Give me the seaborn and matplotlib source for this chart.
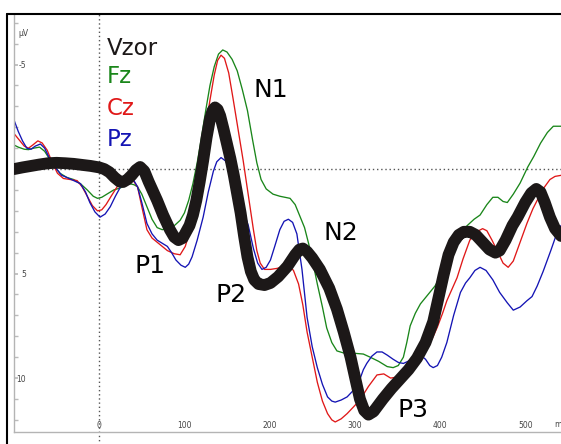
import matplotlib
matplotlib.use("Agg")
import matplotlib.pyplot as plt
from matplotlib.lines import Line2D
import seaborn as sns

sns.set_theme(style="white")
plt.rcParams["font.family"] = ["DejaVu Sans"]
plt.rcParams["axes.unicode_minus"] = False

# ERP waveforms (ms, µV), negative plotted upward
vzor_t = [-100, -90, -80, -70, -60, -50, -40, -30, -20, -10, 0, 6, 12, 18, 24, 28, 33, 38, 43,
          48, 53, 58, 63, 68, 75, 83, 88, 93, 98, 102, 106, 110, 114, 118, 122, 126, 130, 133,
          136, 139, 142, 146, 150, 154, 158, 162, 166, 170, 174, 178, 182, 187, 194, 201, 210,
          221, 230, 235, 239, 244, 250, 259, 270, 279, 287, 295, 301, 306, 311, 316, 322, 333,
          343, 353, 363, 373, 383, 392, 398, 404, 410, 416, 422, 428, 435, 442, 450, 458, 465,
          470, 477, 485, 491, 500, 507, 513, 518, 523, 529, 535, 542]
vzor_v = [0.0, -0.08, -0.15, -0.22, -0.28, -0.3, -0.28, -0.25, -0.2, -0.15, -0.08, 0.0, 0.15,
          0.4, 0.6, 0.62, 0.5, 0.3, 0.05, -0.1, 0.1, 0.6, 1.05, 1.5, 2.2, 2.9, 3.25, 3.4, 3.3,
          3.0, 2.7, 2.2, 1.5, 0.6, -0.4, -1.5, -2.4, -2.8, -2.95, -2.85, -2.55, -1.9, -1.2,
          -0.5, 0.3, 1.2, 2.1, 3.2, 4.2, 4.9, 5.3, 5.5, 5.55, 5.45, 5.15, 4.65, 4.1, 3.85, 3.8,
          3.95, 4.25, 4.8, 5.7, 6.7, 7.8, 9.0, 10.1, 11.0, 11.55, 11.75, 11.6, 11.0, 10.5,
          10.05, 9.6, 9.05, 8.3, 7.3, 6.2, 5.1, 4.1, 3.5, 3.15, 3.0, 3.0, 3.15, 3.5, 3.85, 4.0,
          3.9, 3.4, 2.7, 2.3, 1.6, 1.15, 0.95, 1.1, 1.6, 2.3, 2.85, 3.2]

fz_t = [-100, -95, -88, -83, -77, -70, -64, -57, -51, -46, -38, -30, -22, -14, -7, -2, 3, 9,
        17, 25, 31, 36, 41, 45, 50, 56, 62, 68, 74, 80, 87, 95, 100, 105, 110, 115, 120, 125,
        130, 135, 140, 145, 150, 156, 162, 168, 174, 180, 185, 190, 196, 204, 212, 218, 224,
        230, 236, 241, 246, 251, 256, 262, 267, 273, 279, 287, 295, 310, 318, 328, 338, 345,
        351, 357, 361, 365, 371, 377, 383, 388, 394, 400, 408, 416, 424, 432, 440, 447, 455,
        462, 468, 474, 479, 486, 494, 503, 510, 518, 526, 533, 542]
fz_v = [-1.15, -1.05, -0.95, -0.93, -1.0, -1.05, -0.85, -0.4, -0.05, 0.2, 0.4, 0.5, 0.7, 1.0,
        1.3, 1.4, 1.35, 1.2, 1.0, 0.9, 0.75, 0.7, 0.75, 0.85, 1.2, 1.8, 2.4, 2.8, 2.9, 2.85,
        2.75, 2.45, 2.1, 1.5, 0.7, -0.3, -1.5, -2.8, -4.0, -4.9, -5.5, -5.7, -5.6, -5.25,
        -4.7, -3.8, -2.8, -1.4, -0.3, 0.5, 0.95, 1.2, 1.3, 1.35, 1.4, 1.7, 2.3, 2.8, 3.6, 4.5,
        5.5, 6.6, 7.6, 8.3, 8.7, 8.8, 8.8, 8.85, 9.0, 9.2, 9.45, 9.5, 9.4, 9.0, 8.3, 7.5, 6.9,
        6.45, 6.15, 5.9, 5.6, 5.2, 4.4, 3.6, 3.05, 2.7, 2.4, 2.2, 1.7, 1.35, 1.35, 1.55, 1.6,
        1.2, 0.67, -0.1, -0.6, -1.24, -1.75, -2.05, -2.05]

cz_t = [-100, -94, -88, -83, -78, -72, -67, -61, -55, -49, -42, -34, -26, -20, -14, -8, -2, 3,
        8, 14, 21, 27, 33, 39, 45, 50, 56, 62, 68, 74, 80, 88, 95, 101, 107, 112, 118, 124,
        130, 135, 139, 143, 147, 152, 157, 163, 169, 173, 177, 181, 185, 189, 194, 201, 209,
        216, 222, 228, 234, 239, 244, 250, 256, 262, 268, 273, 277, 284, 291, 298, 306, 316,
        326, 334, 342, 350, 357, 365, 373, 380, 385, 391, 397, 403, 408, 414, 420, 427, 435,
        443, 450, 455, 461, 467, 474, 480, 486, 494, 502, 509, 514, 521, 529, 535, 542]
cz_v = [-1.7, -1.4, -1.1, -1.0, -1.15, -1.35, -1.25, -0.9, -0.3, 0.2, 0.45, 0.5, 0.55, 0.85,
        1.3, 1.75, 2.0, 1.95, 1.7, 1.3, 0.85, 0.55, 0.4, 0.5, 0.85, 1.8, 2.9, 3.3, 3.5, 3.7,
        3.9, 4.05, 4.1, 3.7, 2.9, 1.6, 0.0, -1.8, -3.3, -4.5, -5.2, -5.45, -5.3, -4.6, -3.4,
        -1.9, -0.4, 0.7, 1.8, 2.9, 3.9, 4.5, 4.8, 4.8, 4.75, 4.65, 4.6, 4.85, 5.5, 6.5, 7.8,
        9.0, 10.2, 11.1, 11.7, 12.0, 12.1, 11.95, 11.7, 11.4, 11.05, 10.4, 9.85, 9.8, 10.0,
        9.95, 9.8, 9.5, 9.1, 8.75, 8.5, 8.1, 7.55, 6.9, 6.3, 5.75, 5.2, 4.3, 3.4, 3.0, 2.85,
        2.95, 3.4, 3.9, 4.5, 4.7, 4.4, 3.5, 2.6, 1.9, 1.5, 0.95, 0.5, 0.35, 0.3]

pz_t = [-100, -95, -90, -85, -80, -75, -69, -64, -60, -55, -49, -44, -38, -30, -22, -16, -11,
        -5, 1, 7, 13, 19, 25, 30, 34, 40, 45, 50, 56, 62, 68, 74, 80, 85, 90, 96, 101, 105,
        109, 115, 122, 128, 134, 138, 143, 148, 154, 160, 165, 170, 175, 181, 186, 191, 196,
        201, 206, 212, 217, 222, 227, 232, 238, 244, 250, 256, 262, 268, 273, 277, 284, 291,
        298, 306, 310, 314, 320, 326, 332, 338, 345, 351, 357, 365, 371, 377, 383, 388, 392,
        397, 402, 408, 416, 424, 430, 435, 441, 447, 454, 462, 470, 479, 486, 494, 502, 508,
        514, 521, 530, 536, 542]
pz_v = [-2.35, -1.8, -1.35, -1.0, -0.95, -1.1, -1.2, -1.0, -0.65, -0.3, 0.05, 0.3, 0.4, 0.55,
        0.7, 1.1, 1.6, 2.05, 2.3, 2.15, 1.8, 1.3, 0.85, 0.55, 0.4, 0.5, 0.85, 1.6, 2.6, 3.1,
        3.4, 3.55, 3.7, 4.0, 4.35, 4.6, 4.7, 4.55, 4.2, 3.4, 2.3, 1.1, 0.1, -0.35, -0.55,
        -0.4, 0.05, 0.8, 1.6, 2.1, 2.7, 3.8, 4.5, 4.8, 4.7, 4.35, 3.7, 2.9, 2.5, 2.4, 2.55,
        3.1, 4.8, 7.1, 8.5, 9.5, 10.3, 10.9, 11.1, 11.15, 11.05, 10.9, 10.6, 10.05, 9.6, 9.3,
        8.95, 8.75, 8.75, 8.9, 9.1, 9.25, 9.3, 9.15, 8.95, 8.9, 9.1, 9.4, 9.5, 9.4, 9.0, 8.3,
        7.0, 5.9, 5.45, 5.2, 4.85, 4.7, 4.85, 5.3, 5.9, 6.4, 6.75, 6.6, 6.3, 6.1, 5.6, 4.9,
        3.9, 3.2, 2.7]

channels = ["Fz", "Cz", "Pz"]
colors = {"Vzor": "#1c1818", "Fz": "#1a861a", "Cz": "#e01818", "Pz": "#1414b4"}

components = ["P1", "N1", "P2", "N2", "P3"]
comp_t = [42, 181, 136, 263, 350]
comp_v = [4.98, -3.44, 6.36, 3.4, 11.87]

fig = plt.figure(figsize=(5.61, 4.44), dpi=100)
ax = fig.add_axes([14 / 561, 12 / 444, 547 / 561, 418 / 444])

ax.axhline(0, color="#555555", lw=1, ls=(0, (1, 2)), zorder=1)
ax.axvline(0, ymin=-0.03, ymax=1, color="#555555", lw=1, ls=(0, (1, 2)), clip_on=False, zorder=1)

for name, t, v in [("Fz", fz_t, fz_v), ("Cz", cz_t, cz_v), ("Pz", pz_t, pz_v)]:
    sns.lineplot(x=t, y=v, ax=ax, color=colors[name], linewidth=0.95, estimator=None, zorder=2)
sns.lineplot(x=vzor_t, y=vzor_v, ax=ax, color=colors["Vzor"], linewidth=8.5,
             estimator=None, zorder=3, solid_joinstyle="round")

ax.set_xlim(-100, 542)
ax.set_ylim(12.58, -7.42)
ax.set_xlabel("")
ax.set_ylabel("")

ax.set_xticks([0, 100, 200, 300, 400, 500])
ax.set_yticks([-5, 5, 10])
ax.set_yticks(range(-7, 13), minor=True)
ax.tick_params(axis="x", which="major", direction="in", length=0, pad=-8,
               labelsize=5.5, labelcolor="#444444")
ax.tick_params(axis="y", which="major", direction="in", length=3, pad=-8.5,
               labelsize=5.5, labelcolor="#444444", color="#bbbbbb", left=True)
ax.tick_params(axis="y", which="minor", direction="in", length=3, color="#bbbbbb", left=True)
ax.text(-95, -6.5, "µV", fontsize=5.5, color="#444444", ha="left", va="center")
ax.text(534, 0.017, "ms", fontsize=5.5, color="#444444", ha="left", va="center",
        transform=ax.get_xaxis_transform())

for s in ["top", "right"]:
    ax.spines[s].set_visible(False)
for s in ["left", "bottom"]:
    ax.spines[s].set_color("#b4b4b4")
    ax.spines[s].set_linewidth(1)

# outer frame
fig.add_artist(Line2D([7 / 561, 1], [430 / 444, 430 / 444], color="black", lw=1.5))
fig.add_artist(Line2D([7 / 561, 7 / 561], [0, 430 / 444], color="black", lw=1.5))

# legend as coloured words
leg_base = [-5.45, -4.11, -2.6, -1.1]
for name, vb in zip(["Vzor"] + channels, leg_base):
    ax.text(9.4, vb, name, color=colors[name], fontsize=16.5, ha="left", va="baseline")

for lab, t, v in zip(components, comp_t, comp_v):
    ax.text(t, v, lab, color="black", fontsize=18, ha="left", va="baseline")

fig.savefig("out.png", dpi=100)
